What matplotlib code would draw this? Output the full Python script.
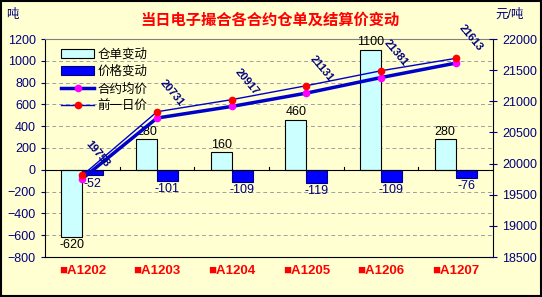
import numpy as np
import matplotlib
matplotlib.use("Agg")
import matplotlib.pyplot as plt
from matplotlib.patches import Rectangle

plt.rcParams['font.family'] = ['Liberation Sans', 'Noto Sans CJK SC', 'DejaVu Sans']

categories = ['■A1202', '■A1203', '■A1204', '■A1205', '■A1206', '■A1207']
stock_change = [-620, 280, 160, 460, 1100, 280]
price_change = [-52, -101, -109, -119, -109, -76]
avg_price = [19758, 20731, 20917, 21131, 21381, 21613]
prev_price = [19810, 20832, 21026, 21250, 21490, 21689]

NAVY = '#000080'
BG = '#FFFFD2'

fig = plt.figure(figsize=(5.42, 2.97), dpi=100, facecolor=BG)
ax = fig.add_axes([45 / 542, 1 - 257 / 297, 448 / 542, 218 / 297])
ax.set_facecolor(BG)

x = np.arange(len(categories))
w = 0.28
b1 = ax.bar(x - w / 2, stock_change, w, color='#CCFFFF', edgecolor='black', linewidth=0.8, label='仓单变动', zorder=2)
b2 = ax.bar(x + w / 2, price_change, w, color='#0000FF', edgecolor='#000080', linewidth=0.8, label='价格变动', zorder=2)

ax.set_xlim(-0.5, len(categories) - 0.5)
ax.set_ylim(-800, 1200)
ax.set_yticks(range(-800, 1201, 200))
ax.yaxis.grid(True, linestyle=(0, (4, 3)), color='#A0A0A0', linewidth=0.7, zorder=0)
ax.tick_params(axis='y', colors=NAVY, labelsize=9, direction='out', length=3)
for lbl in ax.get_yticklabels():
    lbl.set_color(NAVY)

# x axis sits at zero
ax.axhline(0, color='black', linewidth=0.8, zorder=3)
ax.set_xticks([])
for i in range(1, len(categories)):
    ax.plot([i - 0.5, i - 0.5], [0, 25], color='black', linewidth=0.8, zorder=3)
for i, c in enumerate(categories):
    ax.text(i, -870, c, ha='center', va='top', color='#FF0000', fontsize=9.5, fontweight='bold')

for sp in ['left', 'bottom']:
    ax.spines[sp].set_color('black')
ax.spines['top'].set_color('#808080')
ax.spines['right'].set_color('black')

# bar value labels
for i, v in enumerate(stock_change):
    if v >= 0:
        ax.text(i - w / 2, v + 15, str(v), ha='center', va='bottom', fontsize=9, color='black')
    else:
        ax.text(i - w / 2, v - 15, str(v), ha='center', va='top', fontsize=9, color='black')
for i, v in enumerate(price_change):
    ax.text(i + w / 2, v - 20, str(v), ha='center', va='top', fontsize=9, color=NAVY)

ax2 = ax.twinx()
ax2.set_ylim(18500, 22000)
ax2.set_yticks(range(18500, 22001, 500))
ax2.tick_params(axis='y', colors=NAVY, labelsize=9, direction='inout', length=6)
for lbl in ax2.get_yticklabels():
    lbl.set_color(NAVY)
for sp in ax2.spines.values():
    sp.set_visible(False)

l1, = ax2.plot(x, avg_price, color='#0000CC', linewidth=2.5, marker='o', markersize=4.5,
               markerfacecolor='#FF00FF', markeredgecolor='#FF00FF', label='合约均价', zorder=5)
l2, = ax2.plot(x, prev_price, color='#0000CC', linewidth=1.0, marker='o', markersize=4.5,
               markerfacecolor='#FF0000', markeredgecolor='#FF0000', label='前一日价', zorder=5)

for i, v in enumerate(avg_price):
    ax2.annotate(str(v), (i, v), xytext=(15, 25), textcoords='offset pixels',
                 rotation=-50, ha='center', va='center', fontsize=8, color=NAVY,
                 fontweight='bold', rotation_mode='anchor', zorder=6)

ax.legend(handles=[b1, b2, l1, l2], loc='upper left', bbox_to_anchor=(0.02, 0.99),
          frameon=False, fontsize=9, handlelength=2.6, handletextpad=0.3,
          labelspacing=0.4, borderaxespad=0.2)

fig.text(270 / 542, 1 - 20 / 297, '当日电子撮合各合约仓单及结算价变动', ha='center', va='center',
         color='#FF0000', fontsize=11, fontweight='bold')
fig.text(12 / 542, 1 - 15 / 297, '吨', ha='center', va='center', color=NAVY, fontsize=9)
fig.text(510 / 542, 1 - 15 / 297, '元/吨', ha='center', va='center', color=NAVY, fontsize=9)

fig.patches.append(Rectangle((0.002, 0.003), 0.996, 0.994, transform=fig.transFigure,
                             fill=False, edgecolor='black', linewidth=1.5))

fig.savefig('out.png', dpi=100, facecolor=BG)
